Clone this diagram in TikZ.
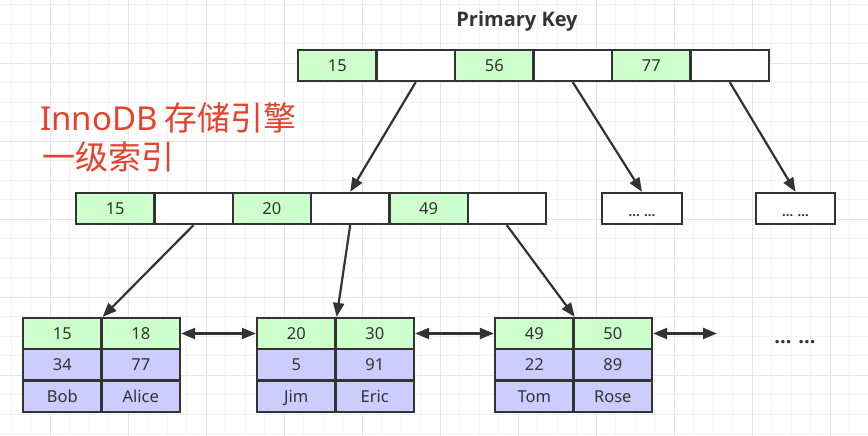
\documentclass[tikz,border=0pt]{standalone}
\usepackage{fontspec}
\setmainfont{Noto Sans}
\newfontfamily\cjk{Noto Sans CJK SC}
\newfontfamily\titlefont{Open Sans}
\usetikzlibrary{arrows.meta}
\definecolor{gridminor}{HTML}{F2F2F2}
\definecolor{gridmajor}{HTML}{E4E4E4}
\definecolor{keyfill}{HTML}{CCFFCC}
\definecolor{datafill}{HTML}{CCCCFF}
\definecolor{ink}{HTML}{333333}
\definecolor{redtxt}{HTML}{E8412C}
\begin{document}
\begin{tikzpicture}[x=1pt,y=-1pt,
  cell/.style={draw=ink, line width=2.3pt, minimum width=78.5pt, minimum height=31pt,
    inner sep=0pt, text height=13.5pt, text depth=1.5pt,
    font=\fontsize{16.5}{16.5}\selectfont, text=ink},
  keycell/.style={cell, fill=keyfill},
  ptrcell/.style={cell, fill=white},
  datcell/.style={cell, fill=datafill, minimum height=31.3pt},
  dotbox/.style={draw=ink, line width=2.3pt, fill=white, minimum height=31pt,
    inner sep=0pt, text height=15pt, text depth=0pt,
    font=\bfseries\titlefont\fontsize{13}{13}\selectfont, text=ink},
  arr/.style={draw=ink, line width=2.2pt, -{Triangle[length=14pt,width=11pt]}},
  biarr/.style={draw=ink, line width=2.2pt, {Triangle[length=14pt,width=11pt]}-{Triangle[length=14pt,width=11pt]}}
]
\useasboundingbox (0,0) rectangle (868,436);
\fill[white] (0,0) rectangle (868,436);
% grid
\foreach \k in {0,...,44} \draw[gridminor, line width=0.8pt] ({11+19.5*\k},0) -- ({11+19.5*\k},436);
\foreach \k in {0,...,22} \draw[gridminor, line width=0.8pt] (0,{4.5+19.5*\k}) -- (868,{4.5+19.5*\k});
\foreach \j in {0,...,10} \draw[gridmajor, line width=0.8pt] ({50+78*\j},0) -- ({50+78*\j},436);
\foreach \j in {0,...,4} \draw[gridmajor, line width=0.8pt] (0,{63+78*\j}) -- (868,{63+78*\j});

% title
\node[font=\titlefont\bfseries\fontsize{20}{20}\selectfont, text=ink] (title) at (517,21) {Primary Key};

% red label
\node[anchor=base west, text=redtxt, font=\fontsize{33}{33}\selectfont, inner sep=0pt] (lab1) at (40,131) {InnoDB\hspace{0.2em}{\cjk 存储引擎}};
\node[anchor=base west, text=redtxt, font=\fontsize{33}{33}\selectfont\cjk, inner sep=0pt] (lab2) at (42,169) {一级索引};

% root node
\node[keycell] (t1) at (337.25,65.5) {15};
\node[ptrcell] (t2) at (415.75,65.5) {};
\node[keycell] (t3) at (494.25,65.5) {56};
\node[ptrcell] (t4) at (572.75,65.5) {};
\node[keycell] (t5) at (651.25,65.5) {77};
\node[ptrcell] (t6) at (729.75,65.5) {};

% middle node
\node[keycell, minimum width=78.3pt] (m1) at (115.2,208.5) {15};
\node[ptrcell, minimum width=78.3pt] (m2) at (193.5,208.5) {};
\node[keycell, minimum width=78.3pt] (m3) at (271.8,208.5) {20};
\node[ptrcell, minimum width=78.3pt] (m4) at (350.2,208.5) {};
\node[keycell, minimum width=78.3pt] (m5) at (428.5,208.5) {49};
\node[ptrcell, minimum width=78.3pt] (m6) at (506.8,208.5) {};

% ellipsis boxes
\node[dotbox, minimum width=80pt] (e1) at (642,208.5) {... ...};
\node[dotbox, minimum width=79pt] (e2) at (795.5,208.5) {... ...};

% leaf 1
\node[keycell] (a1) at (62.25,333.5) {15};
\node[keycell] (a2) at (140.75,333.5) {18};
\node[datcell] (a3) at (62.25,364.8) {34};
\node[datcell] (a4) at (140.75,364.8) {77};
\node[datcell] (a5) at (62.25,396.1) {Bob};
\node[datcell] (a6) at (140.75,396.1) {Alice};
% leaf 2
\node[keycell] (b1) at (296.25,333.5) {20};
\node[keycell] (b2) at (374.75,333.5) {30};
\node[datcell] (b3) at (296.25,364.8) {5};
\node[datcell] (b4) at (374.75,364.8) {91};
\node[datcell] (b5) at (296.25,396.1) {Jim};
\node[datcell] (b6) at (374.75,396.1) {Eric};
% leaf 3
\node[keycell] (c1) at (534.25,333.5) {49};
\node[keycell] (c2) at (612.75,333.5) {50};
\node[datcell] (c3) at (534.25,364.8) {22};
\node[datcell] (c4) at (612.75,364.8) {89};
\node[datcell] (c5) at (534.25,396.1) {Tom};
\node[datcell] (c6) at (612.75,396.1) {Rose};

\node[anchor=base, font=\titlefont\bfseries\fontsize{20}{20}\selectfont, text=ink] (more) at (795,343) {... ...};
\coordinate (nx) at (717,333.5);

% tree arrows
\draw[arr] (t2.south) -- (m4.north);
\draw[arr] (t4.south) -- (e1.north);
\draw[arr] (t6.south) -- (e2.north);
\draw[arr] (m2.south) -- (a1.north east);
\draw[arr] (m4.south) -- (b1.north east);
\draw[arr] (m6.south) -- (c1.north east);

% sibling links
\draw[biarr] (a2.east) -- (b1.west);
\draw[biarr] (b2.east) -- (c1.west);
\draw[biarr] (c2.east) -- (nx);
\end{tikzpicture}
\end{document}
